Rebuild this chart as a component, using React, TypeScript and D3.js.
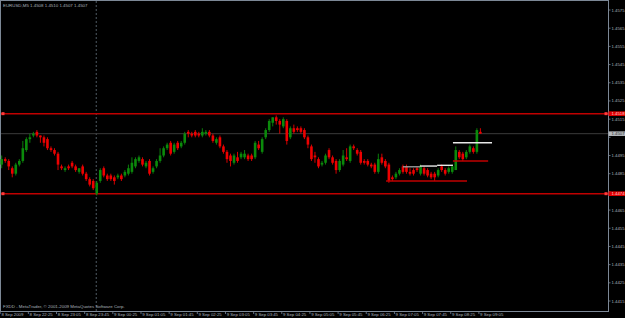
import React from "react";
import * as d3 from "d3";

const opens = [1.4490,1.4493,1.4492,1.4488,1.4485,1.4490,1.4492,1.4498,1.4504,1.4506,1.4508,1.4506,1.4505,1.4504,1.4499,1.4498,1.4496,1.4489,1.4487,1.4489,1.4491,1.4489,1.4486,1.4489,1.4485,1.4482,1.4481,1.4474,1.4481,1.4488,1.4484,1.4484,1.4483,1.4483,1.4484,1.4484,1.4485,1.4486,1.4489,1.4492,1.4493,1.4489,1.4492,1.4486,1.4489,1.4492,1.4495,1.4499,1.4502,1.4497,1.4502,1.4500,1.4502,1.4508,1.4507,1.4508,1.4507,1.4506,1.4507,1.4508,1.4506,1.4502,1.4505,1.4500,1.4497,1.4495,1.4491,1.4494,1.4494,1.4494,1.4495,1.4495,1.4494,1.4501,1.4497,1.4505,1.4509,1.4513,1.4516,1.4514,1.4511,1.4514,1.4505,1.4510,1.4510,1.4510,1.4509,1.4505,1.4500,1.4495,1.4493,1.4490,1.4491,1.4498,1.4494,1.4492,1.4487,1.4490,1.4494,1.4492,1.4500,1.4498,1.4497,1.4492,1.4492,1.4490,1.4490,1.4486,1.4494,1.4492,1.4490,1.4483,1.4483,1.4485,1.4489,1.4489,1.4486,1.4487,1.4488,1.4485,1.4488,1.4487,1.4485,1.4485,1.4484,1.4489,1.4487,1.4486,1.4486,1.4487,1.4497,1.4496,1.4494,1.4497,1.4499,1.4497,1.4508];
const highs = [1.4495,1.4494,1.4493,1.4489,1.4491,1.4493,1.4503,1.4505,1.4507,1.4508,1.4509,1.4506,1.4506,1.4505,1.4500,1.4499,1.4497,1.4490,1.4489,1.4490,1.4492,1.4490,1.4488,1.4490,1.4486,1.4483,1.4482,1.4481,1.4488,1.4489,1.4485,1.4485,1.4484,1.4485,1.4485,1.4487,1.4490,1.4494,1.4494,1.4495,1.4494,1.4492,1.4493,1.4489,1.4493,1.4499,1.4500,1.4502,1.4503,1.4502,1.4503,1.4503,1.4508,1.4509,1.4508,1.4509,1.4508,1.4510,1.4509,1.4509,1.4507,1.4505,1.4506,1.4501,1.4498,1.4496,1.4496,1.4497,1.4497,1.4498,1.4496,1.4496,1.4503,1.4503,1.4505,1.4510,1.4515,1.4516,1.4517,1.4515,1.4516,1.4515,1.4511,1.4512,1.4511,1.4511,1.4510,1.4506,1.4501,1.4497,1.4494,1.4492,1.4496,1.4499,1.4495,1.4493,1.4493,1.4498,1.4499,1.4501,1.4501,1.4499,1.4498,1.4493,1.4493,1.4491,1.4491,1.4496,1.4496,1.4493,1.4491,1.4484,1.4486,1.4488,1.4490,1.4490,1.4488,1.4488,1.4489,1.4490,1.4489,1.4488,1.4486,1.4486,1.4488,1.4490,1.4488,1.4489,1.4490,1.4500,1.4498,1.4497,1.4498,1.4501,1.4500,1.4510,1.4510];
const lows = [1.4488,1.4491,1.4487,1.4483,1.4484,1.4489,1.4491,1.4497,1.4502,1.4505,1.4505,1.4502,1.4500,1.4498,1.4497,1.4495,1.4487,1.4487,1.4486,1.4487,1.4488,1.4486,1.4485,1.4484,1.4481,1.4478,1.4476,1.4473,1.4480,1.4483,1.4481,1.4481,1.4479,1.4482,1.4481,1.4483,1.4484,1.4485,1.4488,1.4491,1.4489,1.4488,1.4484,1.4485,1.4488,1.4491,1.4494,1.4498,1.4495,1.4496,1.4498,1.4499,1.4501,1.4505,1.4505,1.4505,1.4505,1.4505,1.4506,1.4505,1.4502,1.4501,1.4499,1.4496,1.4491,1.4489,1.4490,1.4491,1.4493,1.4493,1.4492,1.4492,1.4493,1.4498,1.4496,1.4504,1.4508,1.4511,1.4512,1.4507,1.4510,1.4501,1.4504,1.4507,1.4508,1.4507,1.4504,1.4499,1.4492,1.4491,1.4488,1.4489,1.4490,1.4493,1.4490,1.4485,1.4486,1.4489,1.4492,1.4491,1.4498,1.4495,1.4490,1.4490,1.4489,1.4488,1.4485,1.4485,1.4490,1.4488,1.4480,1.4481,1.4482,1.4484,1.4485,1.4485,1.4484,1.4484,1.4486,1.4484,1.4484,1.4483,1.4482,1.4481,1.4483,1.4486,1.4484,1.4485,1.4485,1.4487,1.4493,1.4492,1.4493,1.4496,1.4496,1.4496,1.4507];
const closes = [1.4493,1.4492,1.4489,1.4485,1.4490,1.4492,1.4499,1.4504,1.4505,1.4507,1.4506,1.4505,1.4502,1.4499,1.4498,1.4496,1.4490,1.4488,1.4488,1.4488,1.4489,1.4487,1.4488,1.4485,1.4482,1.4479,1.4477,1.4480,1.4487,1.4484,1.4482,1.4482,1.4481,1.4484,1.4482,1.4486,1.4488,1.4491,1.4493,1.4494,1.4490,1.4491,1.4485,1.4488,1.4492,1.4495,1.4499,1.4501,1.4496,1.4501,1.4499,1.4502,1.4507,1.4507,1.4506,1.4506,1.4506,1.4508,1.4508,1.4506,1.4503,1.4504,1.4500,1.4497,1.4493,1.4492,1.4495,1.4492,1.4496,1.4496,1.4493,1.4493,1.4502,1.4499,1.4504,1.4509,1.4514,1.4516,1.4514,1.4512,1.4515,1.4503,1.4510,1.4508,1.4509,1.4508,1.4505,1.4501,1.4493,1.4494,1.4489,1.4491,1.4495,1.4494,1.4491,1.4487,1.4492,1.4495,1.4493,1.4500,1.4499,1.4496,1.4491,1.4491,1.4490,1.4489,1.4486,1.4493,1.4491,1.4489,1.4481,1.4482,1.4485,1.4487,1.4486,1.4486,1.4485,1.4485,1.4487,1.4489,1.4485,1.4484,1.4483,1.4483,1.4487,1.4487,1.4485,1.4488,1.4489,1.4498,1.4494,1.4493,1.4497,1.4500,1.4497,1.4509,1.4507];

const priceTicks = [1.4575,1.4565,1.4555,1.4545,1.4535,1.4525,1.4515,1.4505,1.4495,1.4485,1.4475,1.4465,1.4455,1.4445,1.4435,1.4425,1.4415];
const timeLabels = ["8 Sep 2009","8 Sep 22:25","8 Sep 23:05","8 Sep 23:45","9 Sep 00:25","9 Sep 01:05","9 Sep 01:45","9 Sep 02:25","9 Sep 03:05","9 Sep 03:45","9 Sep 04:25","9 Sep 05:05","9 Sep 05:45","9 Sep 06:25","9 Sep 07:05","9 Sep 07:45","9 Sep 08:25","9 Sep 09:05"];
const timeLabelBars = [0,8,16,24,32,40,48,56,64,72,80,88,96,104,112,120,128,136];

const levelPrices = [1.4518, 1.4474];
const bidPrice = 1.4507;
const separatorBar = 27;
// drawn segments: [startBar, endBar, price, kind]
const segStart = [109.2, 114, 118.8, 123.7, 128.2, 128.2];
const segEnd = [132.2, 118.8, 123.7, 128.2, 139.3, 138.2];
const segPrice = [1.4481, 1.44888, 1.44892, 1.44896, 1.4502, 1.4492];
const segKind = ["red", "grey", "white", "white", "white", "red"];

const title = "EURUSD,M5  1.4508 1.4510 1.4507 1.4507";
const copyright = "FXDD - MetaTrader, © 2001-2009 MetaQuotes Software Corp.";

const W = 625, H = 318;
const plotRight = 608, plotBottom = 311;
const FONT = "'Liberation Sans', Arial, sans-serif";
const TXT = "#a9b1ba";
const AXIS = "#7c8896";

export default function App() {
  const x = d3.scaleLinear().domain([0, 136]).range([1.7, 480.4]);
  const y = d3.scaleLinear().domain([1.4415, 1.4575]).range([301, 10]);
  const bw = 2.6;
  const segColor = (k: string) => (k === "red" ? "#c00000" : k === "grey" ? "#9a9a9a" : "#e8e8e8");
  const boxYs = [...levelPrices, bidPrice].map((p) => y(p));
  const visibleTicks = priceTicks.filter((p) => boxYs.every((by) => Math.abs(y(p) - by) > 4.6));

  return (
    <svg width={W} height={H} style={{ position: "absolute", left: 0, top: 0, background: "#000" }}>
      <rect x={0} y={0} width={W} height={H} fill="#000" />
      {/* frame */}
      <rect x={0.5} y={0.5} width={plotRight} height={plotBottom} fill="none" stroke={AXIS} strokeWidth={1} />
      {/* period separator */}
      <line x1={x(separatorBar) - 0.5} x2={x(separatorBar) - 0.5} y1={1} y2={plotBottom} stroke="#66727f" strokeDasharray="2,2" strokeWidth={0.8} />
      {/* bid line */}
      <line x1={1} x2={plotRight} y1={y(bidPrice)} y2={y(bidPrice)} stroke="#3a3a3a" strokeWidth={1} />
      {/* level lines */}
      {levelPrices.map((p, i) => (
        <g key={"lv" + i}>
          <line x1={1} x2={plotRight} y1={y(p)} y2={y(p)} stroke="#c00000" strokeWidth={1.5} />
          <rect x={1.5} y={y(p) - 1.5} width={3} height={3} fill="#ff3a3a" />
          <rect x={plotRight - 3.5} y={y(p) - 1.5} width={3} height={3} fill="#ff3a3a" />
        </g>
      ))}
      {/* candles */}
      {opens.map((o, i) => {
        const c = closes[i];
        const bull = c > o;
        const col = bull ? "#0b8a0b" : "#ee0000";
        const top = y(Math.max(o, c));
        const bot = y(Math.min(o, c));
        const cx = x(i);
        return (
          <g key={"c" + i}>
            <line x1={cx} x2={cx} y1={y(highs[i])} y2={y(lows[i])} stroke={col} strokeWidth={0.9} />
            <rect x={cx - bw / 2} y={top} width={bw} height={Math.max(bot - top, 0.9)} fill={col} />
          </g>
        );
      })}
      {/* drawn segments */}
      {segStart.map((s, i) => (
        <line key={"sg" + i} x1={x(s)} x2={x(segEnd[i])} y1={y(segPrice[i])} y2={y(segPrice[i])} stroke={segColor(segKind[i])} strokeWidth={1.4} />
      ))}
      {/* price axis */}
      {priceTicks.map((p, i) => (
        <line key={"ptk" + i} x1={plotRight} x2={plotRight + 2.5} y1={y(p)} y2={y(p)} stroke={AXIS} strokeWidth={0.8} />
      ))}
      {visibleTicks.map((p, i) => (
        <text key={"pt" + i} x={plotRight + 3.5} y={y(p) + 1.5} fontSize={4.3} fontFamily={FONT} fill={TXT}>{p.toFixed(4)}</text>
      ))}
      {/* level labels */}
      {levelPrices.map((p, i) => (
        <g key={"ll" + i}>
          <rect x={plotRight + 0.5} y={y(p) - 2.3} width={W - plotRight} height={4.6} fill="#e00000" />
          <text x={plotRight + 3.5} y={y(p) + 1.5} fontSize={4.3} fontFamily={FONT} fill="#ffd0d0">{p.toFixed(4)}</text>
        </g>
      ))}
      <rect x={plotRight + 0.5} y={y(bidPrice) - 2.3} width={W - plotRight} height={4.6} fill="#b4b8bd" />
      <text x={plotRight + 3.5} y={y(bidPrice) + 1.5} fontSize={4.3} fontFamily={FONT} fill="#303030">{bidPrice.toFixed(4)}</text>
      {/* time axis */}
      {timeLabelBars.map((b, i) => (
        <g key={"tl" + i}>
          <line x1={x(b) - 1.5} x2={x(b) - 1.5} y1={plotBottom} y2={plotBottom + 3} stroke={AXIS} strokeWidth={0.8} />
          <text x={x(b) - 0.3} y={plotBottom + 5.3} fontSize={4.3} fontFamily={FONT} fill={TXT}>{timeLabels[i]}</text>
        </g>
      ))}
      <text x={3} y={6.5} fontSize={4.4} fontFamily={FONT} fill={TXT}>{title}</text>
      <text x={3} y={307.5} fontSize={4.4} fontFamily={FONT} fill={TXT}>{copyright}</text>
    </svg>
  );
}
